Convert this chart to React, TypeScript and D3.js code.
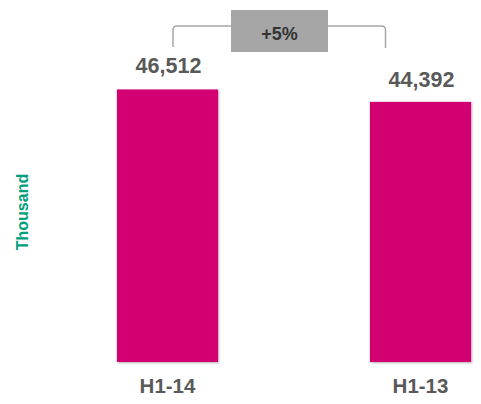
import React from "react";
import * as d3 from "d3";

const categories = ["H1-14", "H1-13"];
const values = [46512, 44392];
const valueLabels = ["46,512", "44,392"];
const changeLabel = "+5%";
const axisTitle = "Thousand";

const W = 481;
const H = 404;
const FONT = "'Liberation Sans', Arial, sans-serif";

export default function App() {
  const x = d3
    .scaleBand<string>()
    .domain(categories)
    .range([41, 547])
    .paddingInner(0.6)
    .paddingOuter(0.3);
  const y = d3.scaleLinear().domain([0, 50000]).range([362, 69]);
  const bw = x.bandwidth();
  const fmt = d3.format(",");

  const c0 = (x(categories[0]) ?? 0) + bw / 2;
  const c1 = (x(categories[1]) ?? 0) + bw / 2;
  const lx = c0 + 5.5;
  const rx = c1 - 35;
  const by = 26;
  const r = 4;
  const bracket = `M${lx},47 V${by + r} Q${lx},${by} ${lx + r},${by} H${rx - r} Q${rx},${by} ${rx},${by + r} V48`;
  const boxX = 231;
  const boxW = 97;

  return (
    <svg
      width={W}
      height={H}
      style={{ position: "absolute", left: 0, top: 0, background: "#fff" }}
      fontFamily={FONT}
    >
      <defs>
        <filter id="sh" x="-10%" y="-10%" width="130%" height="130%">
          <feDropShadow dx="1" dy="1" stdDeviation="1.2" floodColor="#000" floodOpacity="0.3" />
        </filter>
      </defs>
      {categories.map((c, i) => (
        <g key={c}>
          <rect
            x={x(c)}
            y={y(values[i])}
            width={bw}
            height={y(0) - y(values[i])}
            fill="#d2006f"
            filter="url(#sh)"
          />
          <text
            x={(x(c) ?? 0) + bw / 2 + 1}
            y={y(values[i]) - (i === 0 ? 16 : 15)}
            textAnchor="middle"
            fontSize={21.5}
            fontWeight="bold"
            fill="#595959"
          >
            {valueLabels[i] ?? fmt(values[i])}
          </text>
          <text
            x={(x(c) ?? 0) + bw / 2}
            y={393}
            textAnchor="middle"
            fontSize={20.5}
            fontWeight="bold"
            fill="#595959"
          >
            {c}
          </text>
        </g>
      ))}
      <path d={bracket} fill="none" stroke="#a6a6a6" strokeWidth={1.5} />
      <rect x={boxX} y={10} width={boxW} height={42} fill="#a6a6a6" />
      <text
        x={boxX + boxW / 2}
        y={39.5}
        textAnchor="middle"
        fontSize={18}
        fontWeight="bold"
        fill="#333333"
      >
        {changeLabel}
      </text>
      <text
        transform="translate(28,212) rotate(-90)"
        textAnchor="middle"
        fontSize={16}
        fontWeight="bold"
        fill="#00a07a"
      >
        {axisTitle}
      </text>
    </svg>
  );
}
